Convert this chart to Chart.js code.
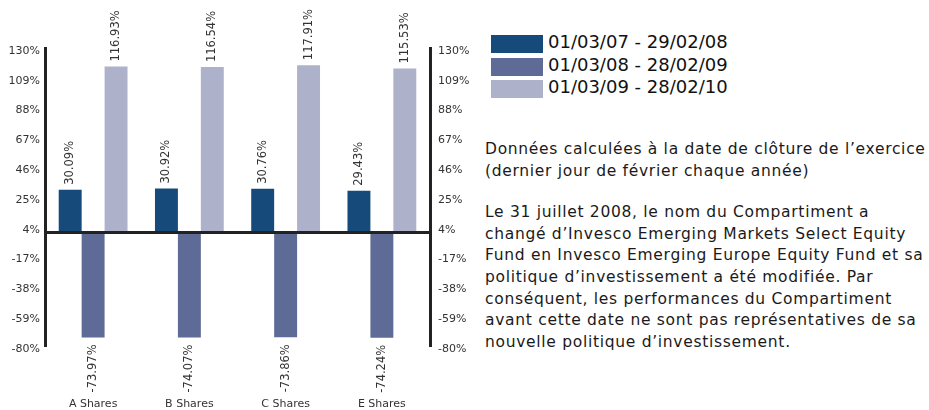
<!DOCTYPE html>
<html>
<head>
<meta charset="utf-8">
<script src="https://cdn.jsdelivr.net/npm/chart.js@4"></script>
<style>
  body { margin: 0; background: #fff; width: 929px; height: 410px; overflow: hidden; position: relative; }
  #boiteGraphe { position: absolute; left: 0; top: 0; width: 480px; height: 410px; }
  #legende { position: absolute; left: 491px; top: 35px; font-family: "DejaVu Sans", sans-serif; font-size: 18px; color: #111; }
  .ligneLegende { height: 22.5px; position: relative; }
  .carre { position: absolute; left: 0; top: 0; width: 52px; height: 18px; }
  .texteLegende { position: absolute; left: 57px; top: -4px; white-space: nowrap; }
  #notes { position: absolute; left: 485px; top: 139px; font-family: "DejaVu Sans", sans-serif; font-size: 15.5px; letter-spacing: 0.7px; line-height: 21.7px; color: #1a1a1a; white-space: nowrap; }
</style>
</head>
<body>
<div id="boiteGraphe"><canvas id="graphe"></canvas></div>
<div id="legende"></div>
<div id="notes">
Données calculées à la date de clôture de l’exercice<br>
(dernier jour de février chaque année)<br>
<div style="height:19.5px"></div>
Le 31 juillet 2008, le nom du Compartiment a<br>
changé d’Invesco Emerging Markets Select Equity<br>
Fund en Invesco Emerging Europe Equity Fund et sa<br>
politique d’investissement a été modifiée. Par<br>
conséquent, les performances du Compartiment<br>
avant cette date ne sont pas représentatives de sa<br>
nouvelle politique d’investissement.
</div>
<script>
var categories = ["A Shares", "B Shares", "C Shares", "E Shares"];
var periodes = ["01/03/07 - 29/02/08", "01/03/08 - 28/02/09", "01/03/09 - 28/02/10"];
var perf0708 = [30.09, 30.92, 30.76, 29.43];
var perf0809 = [-73.97, -74.07, -73.86, -74.24];
var perf0910 = [116.93, 116.54, 117.91, 115.53];
var valeursTicks = [-80, -59, -38, -17, 4, 25, 46, 67, 88, 109, 130];
var couleurs = ["#164a7b", "#5d6b96", "#adb2ca"];

// legende en html
var legende = document.getElementById("legende");
for (var i = 0; i < periodes.length; i++) {
  legende.innerHTML += '<div class="ligneLegende"><div class="carre" style="background:' + couleurs[i] + '"></div>' +
    '<span class="texteLegende">' + periodes[i] + '</span></div>';
}

// ligne du zero + etiquettes tournees
var pluginEtiquettes = {
  id: "etiquettes",
  afterDatasetsDraw: function(chart) {
    var ctx = chart.ctx;
    var zone = chart.chartArea;
    var y0 = chart.scales.y.getPixelForValue(0);
    ctx.save();
    ctx.fillStyle = "#333";
    ctx.font = "11.5px 'DejaVu Sans'";
    ctx.textBaseline = "middle";
    chart.data.datasets.forEach(function(ds, d) {
      var meta = chart.getDatasetMeta(d);
      meta.data.forEach(function(barre, k) {
        var v = ds.data[k];
        var texte = v.toFixed(2) + "%";
        ctx.save();
        if (v >= 0) {
          ctx.translate(barre.x, barre.y - 5);
          ctx.rotate(-Math.PI / 2);
          ctx.textAlign = "left";
        } else {
          ctx.translate(barre.x, barre.y + 7);
          ctx.rotate(-Math.PI / 2);
          ctx.textAlign = "right";
        }
        ctx.fillText(texte, 0, 0);
        ctx.restore();
      });
    });
    ctx.strokeStyle = "#222";
    ctx.lineWidth = 3;
    ctx.beginPath();
    ctx.moveTo(zone.left, y0);
    ctx.lineTo(zone.right, y0);
    ctx.stroke();
    ctx.restore();
  }
};

function ticksFixes(scale) {
  scale.ticks = valeursTicks.map(function(v) { return { value: v }; });
}

new Chart(document.getElementById("graphe"), {
  type: "bar",
  data: {
    labels: categories,
    datasets: [
      { label: periodes[0], data: perf0708, backgroundColor: couleurs[0] },
      { label: periodes[1], data: perf0809, backgroundColor: couleurs[1] },
      { label: periodes[2], data: perf0910, backgroundColor: couleurs[2] }
    ]
  },
  options: {
    responsive: true,
    maintainAspectRatio: false,
    animation: false,
    layout: { padding: { top: 48, left: 0, right: 0, bottom: 0 } },
    datasets: { bar: { categoryPercentage: 0.715, barPercentage: 1 } },
    plugins: { legend: { display: false }, tooltip: { enabled: false } },
    scales: {
      x: {
        afterFit: function(s) { s.height = 64; },
        grid: { display: false, drawTicks: false },
        border: { display: false },
        ticks: { padding: 52, color: "#333", font: { family: "DejaVu Sans", size: 11 } }
      },
      y: {
        position: "left",
        min: -80, max: 130,
        afterBuildTicks: ticksFixes,
        afterFit: function(s) { s.width = 45; },
        grid: { display: false, drawTicks: false },
        border: { color: "#222", width: 3 },
        ticks: { padding: 5, labelOffset: 3, color: "#333", font: { family: "DejaVu Sans", size: 11 },
          callback: function(v) { return v + "%"; } }
      },
      y2: {
        position: "right",
        min: -80, max: 130,
        afterBuildTicks: ticksFixes,
        afterFit: function(s) { s.width = 50; },
        grid: { display: false, drawTicks: false },
        border: { color: "#222", width: 3 },
        ticks: { padding: 8, labelOffset: 3, color: "#333", font: { family: "DejaVu Sans", size: 11 },
          callback: function(v) { return v + "%"; } }
      }
    }
  },
  plugins: [pluginEtiquettes]
});
</script>
</body>
</html>
